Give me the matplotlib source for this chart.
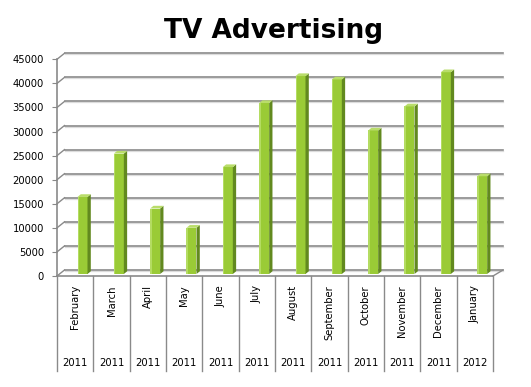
import matplotlib
matplotlib.use('Agg')
import matplotlib.pyplot as plt
from matplotlib.patches import Polygon, Rectangle

months = ['February', 'March', 'April', 'May', 'June', 'July', 'August',
          'September', 'October', 'November', 'December', 'January']
years = ['2011'] * 11 + ['2012']
values = [16000, 25000, 13600, 9600, 22200, 35500, 41100, 40400, 29800,
          34800, 41900, 20300]
yticks = list(range(0, 45001, 5000))
title = 'TV Advertising'

W, H = 531, 387
fig = plt.figure(figsize=(W / 100, H / 100), dpi=100)
# front plane, pixel coords (top origin)
x0, x1 = 57, 493
y0, ytop = 276, 59.3
ax = fig.add_axes([x0 / W, (H - y0) / H, (x1 - x0) / W, (y0 - ytop) / H])
n = len(months)
ymax = 45000
ax.set_xlim(0, n)
ax.set_ylim(0, ymax)
for s in ax.spines.values():
    s.set_visible(False)
ax.patch.set_visible(False)
ax.set_xticks([])
ax.set_yticks(yticks)
ax.set_yticklabels([str(t) for t in yticks])
ax.tick_params(axis='y', length=3.6, width=0.8, color='#888888', pad=5.8,
               labelsize=7.2)

px = n / (x1 - x0)
py = ymax / (y0 - ytop)
DXL, DXR, DY = 7.5 * px, 10 * px, 6 * py

grid_c = '#8a8a8a'
shadow_c = '#dcdcdc'
# back wall gridlines + left wall diagonals
for v in yticks:
    ax.plot([DXL, n + DXR], [v + DY - 1.0 * py, v + DY - 1.0 * py], color=shadow_c,
            lw=0.9, clip_on=False, zorder=1)
    ax.plot([DXL, n + DXR], [v + DY, v + DY], color=grid_c, lw=1.2,
            clip_on=False, zorder=1.1)
    ax.plot([0, DXL], [v, v + DY], color=grid_c, lw=1.0, clip_on=False,
            zorder=1.1)
# floor edges
ax.plot([0, n], [0, 0], color=grid_c, lw=1.2, clip_on=False, zorder=1.2)
ax.plot([n, n + DXR], [0, DY], color=grid_c, lw=1.0, clip_on=False, zorder=1.2)
ax.plot([0, 0], [0, ymax], color=grid_c, lw=1.2, clip_on=False, zorder=1.2)

# bars
front_c = '#9acb36'
side_c = '#62891f'
top_c = '#b9dd6a'
bw = 10 * px
bdx, bdy = 3.3 * px, 2.7 * py
for i, v in enumerate(values):
    L = i + 20.5 * px
    R = L + bw
    b = 2 * py
    t = v + b
    ax.add_patch(Rectangle((L, b), bw, v, facecolor=front_c, edgecolor='none',
                           zorder=3))
    ax.add_patch(Rectangle((L, b), bw * 0.15, v, facecolor='#b4dc62',
                           edgecolor='none', zorder=3.1))
    ax.add_patch(Polygon([(R, b), (R + bdx, b + bdy), (R + bdx, t + bdy), (R, t)],
                         closed=True, facecolor=side_c, edgecolor='none', zorder=3))
    ax.add_patch(Polygon([(L, t), (R, t), (R + bdx, t + bdy), (L + bdx, t + bdy)],
                         closed=True, facecolor=top_c, edgecolor='none', zorder=3))

# category axis labels
for i in range(n):
    ax.text(i + 0.5, -9 * py, months[i], rotation=90, ha='center', va='top',
            fontsize=7.2, clip_on=False)
    ax.text(i + 0.5, -(363 - y0) * py, years[i], ha='center', va='center',
            fontsize=7.2, clip_on=False)
for i in range(n + 1):
    ax.plot([i, i], [0, -(371 - y0) * py], color=grid_c, lw=1.0, clip_on=False)

fig.text(274 / W, 1 - 38 / H, title, ha='center', va='baseline',
         fontsize=19, fontweight='bold')

fig.savefig('out.png', dpi=100)
